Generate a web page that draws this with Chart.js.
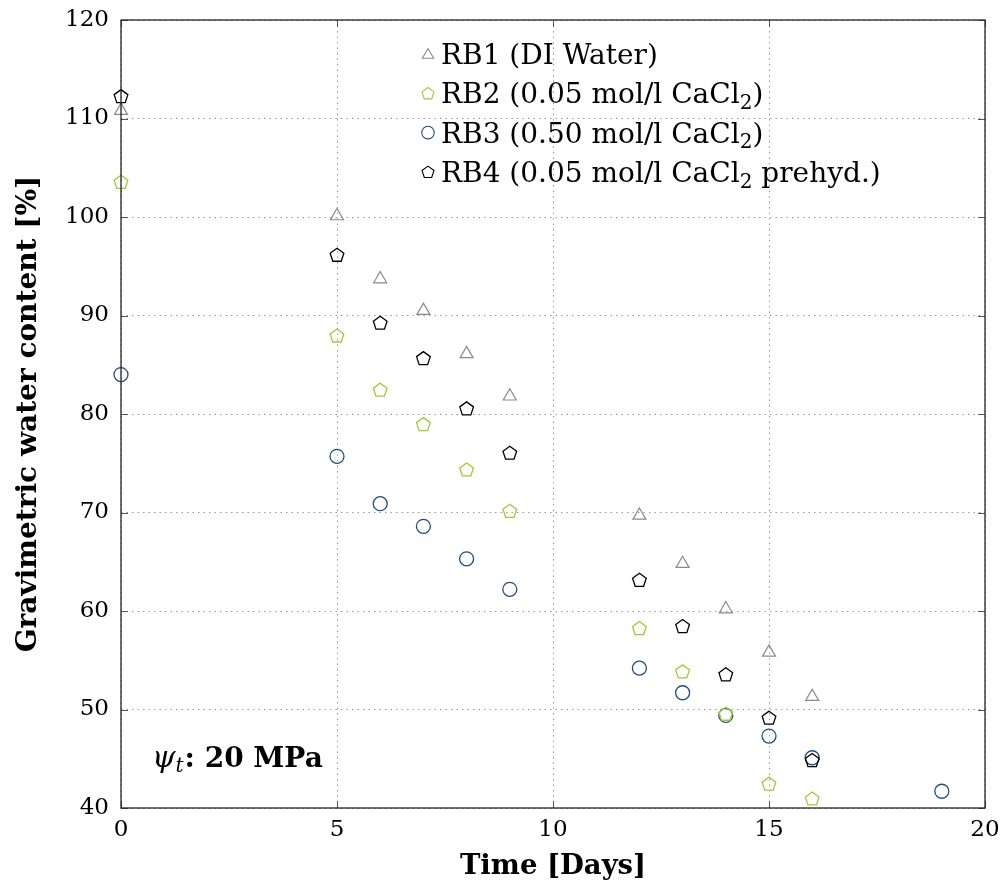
<!DOCTYPE html>
<html><head><meta charset="utf-8">
<script src="https://cdn.jsdelivr.net/npm/chart.js@4.4.0/dist/chart.umd.min.js"></script>
<style>html,body{margin:0;padding:0;background:#fff}</style>
</head><body>
<canvas id="c" width="1001" height="893"></canvas>
<script>
// ---- data ----
const labels = ["RB1 (DI Water)", "RB2 (0.05 mol/l CaCl₂)", "RB3 (0.50 mol/l CaCl₂)", "RB4 (0.05 mol/l CaCl₂ prehyd.)"];
const days_RB1 = [0, 5, 6, 7, 8, 9, 12, 13, 14, 15, 16];
const water_RB1 = [110.8, 100.1, 93.7, 90.5, 86.1, 81.8, 69.7, 64.8, 60.2, 55.8, 51.3];
const days_RB2 = [0, 5, 6, 7, 8, 9, 12, 13, 14, 15, 16];
const water_RB2 = [103.5, 87.9, 82.4, 78.9, 74.3, 70.1, 58.2, 53.8, 49.5, 42.4, 40.9];
const days_RB3 = [0, 5, 6, 7, 8, 9, 12, 13, 14, 15, 16, 19];
const water_RB3 = [84.0, 75.7, 70.9, 68.6, 65.3, 62.2, 54.2, 51.7, 49.4, 47.3, 45.1, 41.7];
const days_RB4 = [0, 5, 6, 7, 8, 9, 12, 13, 14, 15, 16];
const water_RB4 = [112.2, 96.1, 89.2, 85.6, 80.5, 76.0, 63.1, 58.4, 53.5, 49.1, 44.8];
const xTicks = [0, 5, 10, 15, 20];
const yTicks = [40, 50, 60, 70, 80, 90, 100, 110, 120];
const xTitle = "Time [Days]";
const yTitle = "Gravimetric water content [%]";
const noteSymbol = "ψ", noteSub = "t", noteText = ": 20 MPa";

const colGray = "#8a8a8a", colGreen = "#9acd32", colBlue = "#1f4f7f", colBlack = "#000000";
const SERIF = "'DejaVu Serif', serif";

function pts(xs, ys) { return xs.map((x, i) => ({x: x, y: ys[i]})); }

function pathPentagon(ctx, x, y, r) {
  ctx.beginPath();
  for (let k = 0; k < 5; k++) {
    const a = -Math.PI / 2 + k * 2 * Math.PI / 5;
    const px = x + r * Math.cos(a), py = y + r * Math.sin(a);
    if (k === 0) ctx.moveTo(px, py); else ctx.lineTo(px, py);
  }
  ctx.closePath();
}
function pathTriangle(ctx, x, y, r) {
  ctx.beginPath();
  for (let k = 0; k < 3; k++) {
    const a = -Math.PI / 2 + k * 2 * Math.PI / 3;
    const px = x + r * Math.cos(a), py = y + r * Math.sin(a);
    if (k === 0) ctx.moveTo(px, py); else ctx.lineTo(px, py);
  }
  ctx.closePath();
}

const datasets = [
  {label: labels[0], data: pts(days_RB1, water_RB1), pointStyle: 'triangle', pointRadius: 7.5, borderColor: colGray, borderWidth: 1.2, order: 4, marker: 'triangle'},
  {label: labels[1], data: pts(days_RB2, water_RB2), pointStyle: false, pointRadius: 7, borderColor: colGreen, borderWidth: 1.3, order: 3, marker: 'pentagon'},
  {label: labels[2], data: pts(days_RB3, water_RB3), pointStyle: 'circle', pointRadius: 7, borderColor: colBlue, borderWidth: 1.3, order: 2, marker: 'circle'},
  {label: labels[3], data: pts(days_RB4, water_RB4), pointStyle: false, pointRadius: 7, borderColor: colBlack, borderWidth: 1.3, order: 1, marker: 'pentagon'}
];
datasets.forEach(d => { d.showLine = false; d.clip = false; d.backgroundColor = 'rgba(0,0,0,0)'; d.pointHoverRadius = d.pointRadius; });

function drawRich(ctx, text, x, y, size) {
  let cx = x;
  const parts = text.split(/([₀-₉]+)/);
  for (const p of parts) {
    if (!p) continue;
    if (/^[₀-₉]+$/.test(p)) {
      const norm = p.replace(/[₀-₉]/g, ch => String.fromCharCode(ch.charCodeAt(0) - 0x2080 + 48));
      ctx.font = Math.round(size * 0.7) + "px " + SERIF;
      ctx.fillText(norm, cx, y + size * 0.2);
      cx += ctx.measureText(norm).width;
    } else {
      ctx.font = size + "px " + SERIF;
      ctx.fillText(p, cx, y);
      cx += ctx.measureText(p).width;
    }
  }
}

const markerPlugin = {
  id: 'pentagons',
  afterDatasetsDraw(chart) {
    const ctx = chart.ctx;
    ctx.save();
    // draw in order: lower dataset index drawn first => later datasets on top
    chart.data.datasets.forEach((d, i) => {
      if (d.marker !== 'pentagon') return;
      const meta = chart.getDatasetMeta(i);
      ctx.strokeStyle = d.borderColor; ctx.lineWidth = d.borderWidth; ctx.lineJoin = 'miter';
      meta.data.forEach(el => { pathPentagon(ctx, el.x, el.y, d.pointRadius + 0.2); ctx.stroke(); });
    });
    ctx.restore();
  }
};

const framePlugin = {
  id: 'frame',
  afterDatasetsDraw(chart) {
    const ctx = chart.ctx, a = chart.chartArea;
    const xs = chart.scales.x, ys = chart.scales.y;
    ctx.save();
    ctx.strokeStyle = '#555'; ctx.lineWidth = 1;
    const tl = 7;
    xTicks.forEach(v => {
      const px = Math.round(xs.getPixelForValue(v)) + 0.5;
      ctx.beginPath(); ctx.moveTo(px, a.bottom); ctx.lineTo(px, a.bottom - tl);
      ctx.moveTo(px, a.top); ctx.lineTo(px, a.top + tl); ctx.stroke();
    });
    yTicks.forEach(v => {
      const py = Math.round(ys.getPixelForValue(v)) + 0.5;
      ctx.beginPath(); ctx.moveTo(a.left, py); ctx.lineTo(a.left + tl, py);
      ctx.moveTo(a.right, py); ctx.lineTo(a.right - tl, py); ctx.stroke();
    });
    ctx.strokeStyle = '#222'; ctx.lineWidth = 1.3;
    ctx.strokeRect(a.left, a.top, a.right - a.left, a.bottom - a.top);
    ctx.restore();
  },
  afterDraw(chart) {
    const ctx = chart.ctx;
    ctx.save();
    const mx = 428, tx = 441, y0 = 54, dy = 39.3, fs = 28;
    chart.data.datasets.forEach((d, i) => {
      const y = y0 + i * dy;
      ctx.strokeStyle = d.borderColor; ctx.lineWidth = 1.1;
      if (d.marker === 'circle') { ctx.beginPath(); ctx.arc(mx, y, 6.3, 0, Math.PI * 2); }
      else if (d.marker === 'triangle') { pathTriangle(ctx, mx, y + 1, 6.5); }
      else { pathPentagon(ctx, mx, y + 0.5, 6.3); }
      ctx.stroke();
      ctx.fillStyle = '#000'; ctx.textBaseline = 'alphabetic'; ctx.textAlign = 'left';
      drawRich(ctx, d.label, tx, y + 10, fs);
    });
    let x = 152; const by = 767;
    ctx.fillStyle = '#000';
    ctx.font = "italic 30px " + SERIF;
    ctx.fillText(noteSymbol, x, by); x += ctx.measureText(noteSymbol).width;
    ctx.font = "italic 20px " + SERIF;
    ctx.fillText(noteSub, x, by + 5); x += ctx.measureText(noteSub).width + 1;
    ctx.font = "bold 28px " + SERIF;
    ctx.fillText(noteText, x, by);
    ctx.restore();
  }
};

new Chart(document.getElementById('c'), {
  type: 'scatter',
  data: {datasets: datasets},
  options: {
    responsive: false,
    animation: false,
    events: [],
    layout: {padding: {top: 20, right: 16, left: 12, bottom: 10}},
    plugins: {legend: {display: false}, tooltip: {enabled: false}},
    scales: {
      x: {
        type: 'linear', min: 0, max: 20,
        afterBuildTicks(s) { s.ticks = xTicks.map(v => ({value: v})); },
        afterFit(s) { s.height = 75; s.paddingLeft = 0; s.paddingRight = 0; },
        ticks: {font: {family: SERIF, size: 23}, color: '#000', padding: 8, maxRotation: 0},
        grid: {color: '#999', lineWidth: 1, drawTicks: false},
        border: {display: false, dash: [1.5, 4]},
        title: {display: true, text: xTitle, font: {family: SERIF, size: 27.5, weight: 'bold'}, color: '#000', padding: 0}
      },
      y: {
        type: 'linear', min: 40, max: 120,
        afterBuildTicks(s) { s.ticks = yTicks.map(v => ({value: v})); },
        afterFit(s) { s.width = 109; s.paddingTop = 0; s.paddingBottom = 0; },
        ticks: {font: {family: SERIF, size: 23}, color: '#000', padding: 12},
        grid: {color: '#999', lineWidth: 1, drawTicks: false},
        border: {display: false, dash: [1.5, 4]},
        title: {display: true, text: yTitle, font: {family: SERIF, size: 28, weight: 'bold'}, color: '#000', padding: 0}
      }
    }
  },
  plugins: [markerPlugin, framePlugin]
});
</script>
</body></html>
